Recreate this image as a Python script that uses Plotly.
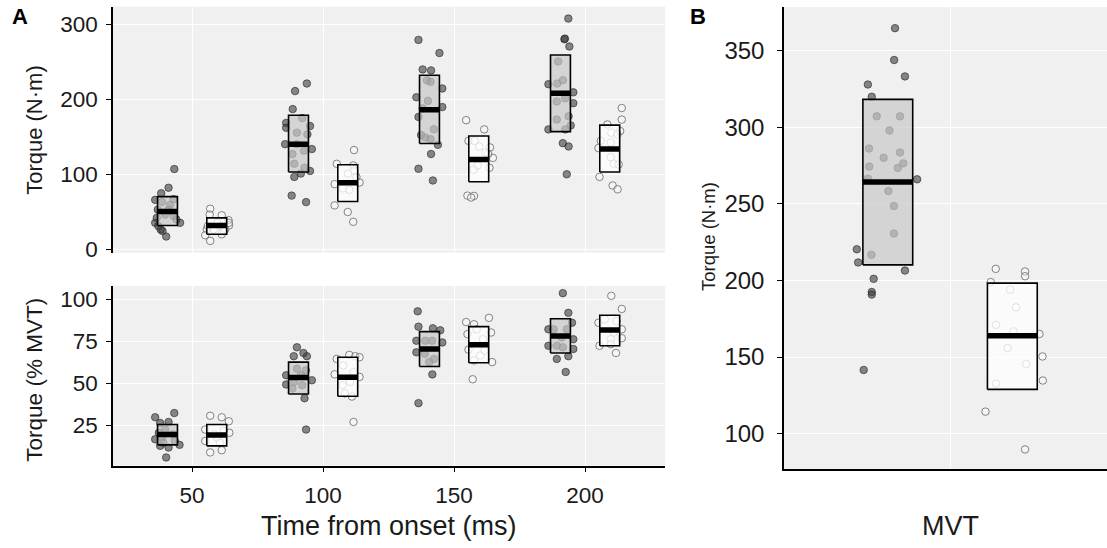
import plotly.graph_objects as go

# ---------------- data ----------------
times = [50, 100, 150, 200]
dodge = 9.4          # ms offset of groups from each time
half_w_a = 3.8       # half box width (ms)

# Panel A top: torque (N·m), dark group (jittered x in ms, values)
nm_d40_x = [43.2, 41.0, 38.2, 35.9, 42.9, 36.9, 41.6, 39.7, 35.9, 45.4, 37.1, 38.7, 40.1, 38.0, 44.0, 38.5, 41.0, 43.0, 36.5]
nm_d40_y = [106.9, 81.9, 74.5, 65.7, 66.6, 52.6, 59.2, 46.0, 35.0, 35.0, 30.7, 24.1, 16.7, 26.0, 39.5, 63.0, 52.6, 44.0, 41.6]
nm_d90_x = [93.8, 89.3, 88.4, 85.9, 85.9, 95.0, 94.0, 85.5, 95.7, 95.0, 92.9, 89.0, 91.5, 88.0, 93.5, 90.0, 88.3, 92.7, 92.0, 89.0, 90.0]
nm_d90_y = [221.2, 211.1, 187.0, 168.6, 162.0, 164.3, 153.3, 140.2, 133.6, 104.3, 108.7, 96.4, 100.8, 71.4, 62.7, 155.5, 127.0, 131.4, 175.0, 114.0, 140.0]
nm_d140_x = [136.4, 144.4, 138.0, 141.2, 145.5, 135.6, 145.5, 136.4, 137.4, 143.8, 141.2, 136.4, 141.9, 139.6, 141.0, 140.0, 142.3, 139.0, 141.0, 138.0]
nm_d140_y = [279.5, 261.9, 240.0, 238.7, 214.6, 202.8, 189.7, 176.5, 152.4, 139.3, 127.0, 107.3, 91.6, 225.6, 223.4, 198.0, 160.0, 149.0, 146.8, 188.0]
nm_d190_x = [193.6, 192.1, 192.3, 194.0, 186.0, 195.5, 195.5, 186.0, 194.5, 191.5, 193.7, 193.0, 189.7, 191.5, 189.4, 192.4, 189.2, 193.7, 189.2, 192.4]
nm_d190_y = [308.0, 280.3, 281.2, 270.7, 220.3, 209.4, 194.9, 159.9, 165.2, 141.5, 137.1, 99.9, 250.6, 225.6, 221.2, 201.5, 197.1, 177.4, 173.0, 159.9]
# white group
nm_w60_x = [56.9, 56.7, 61.3, 63.9, 64.1, 55.6, 55.0, 56.9, 61.3, 62.6, 59.6, 58.3, 60.6, 64.0, 56.0, 62.0]
nm_w60_y = [53.9, 46.0, 45.1, 38.6, 31.6, 26.3, 18.4, 10.9, 19.7, 26.3, 35.0, 26.3, 30.7, 35.0, 30.7, 24.0]
nm_w110_x = [111.8, 105.2, 111.5, 104.4, 113.9, 104.4, 109.4, 111.5, 109.5, 107.6, 112.7, 110.0, 111.8]
nm_w110_y = [132.3, 113.9, 111.7, 86.7, 88.9, 58.3, 49.5, 36.4, 100.8, 81.0, 96.4, 79.0, 105.0]
nm_w160_x = [154.6, 161.5, 155.5, 163.7, 164.8, 163.0, 163.5, 155.1, 157.6, 156.5, 159.6, 159.0, 157.4, 157.8, 162.0]
nm_w160_y = [172.2, 159.9, 144.6, 135.8, 121.8, 127.0, 108.6, 71.4, 71.0, 68.8, 137.0, 111.7, 106.0, 144.6, 129.2]
nm_w210_x = [214.0, 214.0, 208.5, 213.4, 205.1, 205.5, 210.5, 212.4, 210.0, 206.0, 209.8, 212.3, 209.8, 211.0, 212.8]
nm_w210_y = [188.4, 173.0, 166.5, 157.7, 134.9, 96.4, 85.0, 79.8, 155.5, 144.6, 142.4, 153.3, 122.7, 114.0, 113.0]
# crossbars (lower, mean, upper) per time
nm_dark_lo = [31.5, 102.9, 141.1, 156.9]
nm_dark_mean = [50.3, 140.2, 186.2, 208.1]
nm_dark_hi = [70.0, 178.7, 232.2, 259.3]
nm_white_lo = [19.7, 63.5, 89.9, 102.9]
nm_white_mean = [31.6, 88.5, 119.6, 133.6]
nm_white_hi = [41.6, 112.6, 151.1, 165.6]

# Panel A bottom: torque (% MVT)
pc_d40_x = [35.9, 43.2, 37.8, 41.0, 35.9, 45.2, 37.8, 41.0, 40.1, 39.7, 42.6, 38.6, 37.3, 43.4, 39.0]
pc_d40_y = [29.7, 32.2, 26.3, 26.9, 16.6, 13.3, 12.7, 11.7, 5.8, 22.4, 19.5, 17.6, 20.5, 15.6, 14.6]
pc_d90_x = [90.0, 93.8, 92.5, 88.8, 85.9, 85.9, 95.7, 92.9, 93.5, 90.0, 92.0, 88.3, 91.6, 93.4, 89.0]
pc_d90_y = [71.3, 66.0, 67.9, 66.0, 54.7, 49.2, 51.7, 41.0, 22.4, 58.6, 48.8, 46.8, 54.7, 57.6, 50.8]
pc_d140_x = [136.1, 136.4, 141.9, 144.7, 145.5, 135.6, 135.6, 141.7, 136.4, 139.0, 141.6, 142.3, 138.8, 140.5]
pc_d140_y = [92.7, 83.6, 82.6, 81.4, 74.2, 75.2, 68.3, 55.2, 38.1, 75.2, 75.2, 64.4, 67.4, 62.5]
pc_d190_x = [191.5, 193.6, 195.0, 186.0, 186.0, 195.5, 195.5, 189.2, 193.6, 192.6, 188.0, 191.0, 193.0, 189.2, 191.5]
pc_d190_y = [103.5, 91.8, 85.9, 82.0, 72.2, 76.1, 70.3, 64.4, 66.0, 56.6, 82.0, 77.1, 82.0, 72.2, 71.3]
pc_w60_x = [56.9, 61.3, 64.0, 64.2, 55.0, 55.0, 56.9, 61.3, 59.6, 60.6, 58.4, 62.0]
pc_w60_y = [30.6, 29.7, 27.3, 20.5, 22.4, 15.6, 8.8, 10.1, 17.6, 14.6, 19.5, 21.5]
pc_w110_x = [105.2, 110.0, 112.3, 113.9, 104.4, 113.9, 107.4, 111.0, 111.6, 107.7, 110.3, 108.3, 111.6]
pc_w110_y = [64.4, 66.8, 66.0, 65.4, 55.2, 53.7, 48.8, 42.0, 26.9, 60.5, 50.8, 43.9, 56.6]
pc_w160_x = [154.6, 163.3, 157.6, 155.1, 164.1, 155.5, 164.5, 157.6, 157.1, 158.6, 161.0, 160.0, 161.6]
pc_w160_y = [86.3, 88.8, 85.0, 79.1, 80.1, 69.9, 62.5, 63.5, 52.3, 82.0, 76.1, 66.4, 69.3]
pc_w210_x = [210.0, 214.0, 205.1, 214.0, 214.0, 205.5, 211.8, 207.5, 212.0, 209.8, 209.8, 211.0]
pc_w210_y = [101.9, 94.1, 85.9, 82.0, 76.7, 72.2, 67.9, 87.9, 86.9, 76.1, 73.2, 80.1]
pc_dark_lo = [13.3, 43.5, 59.9, 67.9]
pc_dark_mean = [19.5, 53.3, 70.3, 78.1]
pc_dark_hi = [25.4, 62.5, 80.6, 88.3]
pc_white_lo = [12.7, 42.2, 62.1, 72.2]
pc_white_mean = [19.1, 53.5, 72.8, 81.6]
pc_white_hi = [25.4, 65.4, 83.6, 90.4]

# Panel B: MVT (N·m); x = offset from the "MVT" category centre
mvt_dark_x = [-0.199, -0.202, -0.163, -0.297, -0.283, -0.265, -0.181, -0.219, -0.293, -0.181, -0.240, -0.292, -0.169, -0.189,
              -0.297, -0.119, -0.223, -0.203, -0.203, -0.337, -0.284, -0.332, -0.163, -0.276, -0.283, -0.283, -0.312]
mvt_dark_y = [364.8, 344.0, 333.3, 328.0, 320.0, 307.2, 307.2, 298.0, 286.2, 283.6, 280.2, 274.4, 276.5, 273.5,
              266.5, 266.1, 258.5, 248.7, 230.7, 220.4, 216.8, 211.8, 206.5, 201.1, 192.5, 190.8, 141.6]
mvt_white_x = [0.165, 0.271, 0.271, 0.147, 0.217, 0.238, 0.166, 0.229, 0.323, 0.208, 0.334, 0.275, 0.335, 0.166, 0.128, 0.271]
mvt_white_y = [207.6, 205.9, 202.8, 199.0, 194.1, 182.5, 171.1, 166.8, 165.1, 155.9, 150.4, 145.4, 134.7, 132.6, 114.4, 89.7]
mvt_pos = [-0.225, 0.225]
mvt_lo = [210.2, 128.9]
mvt_mean = [264.3, 163.9]
mvt_hi = [318.3, 198.3]
half_w_b = 0.09

# ---------------- styling ----------------
FONT = "Liberation Sans, Arial, sans-serif"
BG = "#F0F0F0"
DARK_M = dict(size=7.5, color="rgba(60,60,60,0.6)", line=dict(color="rgba(35,35,35,0.6)", width=1))
WHITE_M = dict(size=7.5, color="rgba(255,255,255,0.35)", line=dict(color="rgba(95,95,95,0.75)", width=1))
DARK_FILL = "rgba(200,200,200,0.7)"
WHITE_FILL = "rgba(255,255,255,0.75)"

fig = go.Figure()


def add_points(xs, ys, marker, xa, ya):
    fig.add_trace(go.Scatter(x=xs, y=ys, mode="markers", marker=marker, xaxis=xa, yaxis=ya,
                             showlegend=False, hoverinfo="skip"))


def add_box(c, hw, lo, m, hi, fill, xa, ya):
    fig.add_trace(go.Scatter(x=[c - hw, c + hw, c + hw, c - hw, c - hw], y=[lo, lo, hi, hi, lo],
                             mode="lines", fill="toself", fillcolor=fill,
                             line=dict(color="black", width=1.6), xaxis=xa, yaxis=ya,
                             showlegend=False, hoverinfo="skip"))
    fig.add_trace(go.Scatter(x=[c - hw, c + hw], y=[m, m], mode="lines",
                             line=dict(color="black", width=5.5), xaxis=xa, yaxis=ya,
                             showlegend=False, hoverinfo="skip"))


# top panel
for xs, ys in [(nm_d40_x, nm_d40_y), (nm_d90_x, nm_d90_y), (nm_d140_x, nm_d140_y), (nm_d190_x, nm_d190_y)]:
    add_points(xs, ys, DARK_M, "x", "y")
for xs, ys in [(nm_w60_x, nm_w60_y), (nm_w110_x, nm_w110_y), (nm_w160_x, nm_w160_y), (nm_w210_x, nm_w210_y)]:
    add_points(xs, ys, WHITE_M, "x", "y")
for i, t in enumerate(times):
    add_box(t - dodge, half_w_a, nm_dark_lo[i], nm_dark_mean[i], nm_dark_hi[i], DARK_FILL, "x", "y")
    add_box(t + dodge, half_w_a, nm_white_lo[i], nm_white_mean[i], nm_white_hi[i], WHITE_FILL, "x", "y")

# bottom panel
for xs, ys in [(pc_d40_x, pc_d40_y), (pc_d90_x, pc_d90_y), (pc_d140_x, pc_d140_y), (pc_d190_x, pc_d190_y)]:
    add_points(xs, ys, DARK_M, "x2", "y2")
for xs, ys in [(pc_w60_x, pc_w60_y), (pc_w110_x, pc_w110_y), (pc_w160_x, pc_w160_y), (pc_w210_x, pc_w210_y)]:
    add_points(xs, ys, WHITE_M, "x2", "y2")
for i, t in enumerate(times):
    add_box(t - dodge, half_w_a, pc_dark_lo[i], pc_dark_mean[i], pc_dark_hi[i], DARK_FILL, "x2", "y2")
    add_box(t + dodge, half_w_a, pc_white_lo[i], pc_white_mean[i], pc_white_hi[i], WHITE_FILL, "x2", "y2")

# panel B
add_points(mvt_dark_x, mvt_dark_y, DARK_M, "x3", "y3")
add_points(mvt_white_x, mvt_white_y, WHITE_M, "x3", "y3")
add_box(mvt_pos[0], half_w_b, mvt_lo[0], mvt_mean[0], mvt_hi[0], DARK_FILL, "x3", "y3")
add_box(mvt_pos[1], half_w_b, mvt_lo[1], mvt_mean[1], mvt_hi[1], WHITE_FILL, "x3", "y3")

W, H = 1107, 548
def px(v): return v / W
def py(v): return 1 - v / H

tickfont_a = dict(family=FONT, size=22.5, color="#1a1a1a")
tickfont_b = dict(family=FONT, size=24, color="#1a1a1a")
grid = dict(showgrid=True, gridcolor="white", gridwidth=1.3, zeroline=False)
yax_common = dict(ticks="outside", ticklen=5, tickwidth=1.2, tickcolor="black",
                  showline=True, linecolor="black", linewidth=1.5, **grid)

fig.update_layout(
    width=W, height=H, margin=dict(l=0, r=0, t=0, b=0),
    paper_bgcolor="white", plot_bgcolor=BG, showlegend=False,
    font=dict(family=FONT, color="#1a1a1a"),
    xaxis=dict(domain=[px(113), px(665)], range=[19.8, 230.5], tickvals=times, showticklabels=False,
               ticks="", showline=False, anchor="y", **grid),
    yaxis=dict(domain=[py(257), py(6.7)], range=[-5, 324], tickvals=[0, 100, 200, 300],
               anchor="x", ticklabelstandoff=4, tickfont=tickfont_a, **yax_common),
    xaxis2=dict(domain=[px(113), px(665)], range=[19.8, 230.5], tickvals=times, anchor="y2",
                ticks="outside", ticklen=5, tickwidth=1.2, tickcolor="black", showline=True,
                linecolor="black", linewidth=1.5, tickfont=tickfont_a, ticklabelstandoff=4, **grid),
    yaxis2=dict(domain=[py(473.3), py(290.7)], range=[1, 107.8], tickvals=[25, 50, 75, 100],
                anchor="x2", ticklabelstandoff=4, tickfont=tickfont_a, **yax_common),
    xaxis3=dict(domain=[px(784), 1.0], range=[-0.6, 0.567], tickvals=[0], showticklabels=False,
                ticks="", showline=True, linecolor="black", linewidth=1.5, anchor="y3", **grid),
    yaxis3=dict(domain=[py(476.7), py(7.3)], range=[77, 378.5], tickvals=[100, 150, 200, 250, 300, 350],
                anchor="x3", ticklabelstandoff=8, tickfont=tickfont_b, **yax_common),
)

ann = [
    dict(text="A", x=px(20), y=py(17), size=22, angle=0),
    dict(text="B", x=px(698), y=py(17), size=22, angle=0),
    dict(text="Torque (N·m)", x=px(35), y=py(132), size=22, angle=-90),
    dict(text="Torque (% MVT)", x=px(35), y=py(386), size=22.5, angle=-90),
    dict(text="Torque (N·m)", x=px(708), y=py(241), size=18.5, angle=-90),
    dict(text="Time from onset (ms)", x=px(389), y=py(535), size=27, angle=0),
    dict(text="MVT", x=px(950), y=py(535), size=27, angle=0),
]
for a in ann:
    bold = a["text"] in ("A", "B")
    fig.add_annotation(text=("<b>%s</b>" % a["text"]) if bold else a["text"], x=a["x"], y=a["y"],
                       xref="paper", yref="paper", xanchor="center", yanchor="middle",
                       showarrow=False, textangle=a["angle"],
                       font=dict(family=FONT, size=a["size"], color="black" if bold else "#1a1a1a"))

fig.write_html("out.html", config={"displayModeBar": False},
               post_script="document.body.style.margin='0px';")
